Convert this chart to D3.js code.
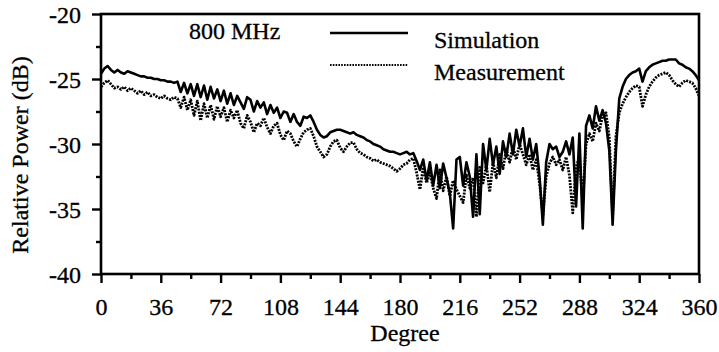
<!DOCTYPE html>
<html>
<head>
<meta charset="utf-8">
<script src="https://cdn.jsdelivr.net/npm/d3@7/dist/d3.min.js"></script>
<style>
  html, body { margin: 0; padding: 0; background: #fff; }
  svg { display: block; }
</style>
</head>
<body>
<svg id="chart" width="719" height="352"></svg>
<script>
// Angle grid (degrees), 2-degree step
const degrees = d3.range(0, 361, 2);

// Relative power (dB), simulated pattern
const simulation = [
  -24.6, -24.2, -24.0, -24.3, -24.5, -24.3, -24.5, -24.6, -24.4, -24.5,
  -24.6, -24.7, -24.8, -24.8, -24.9, -24.9, -25.0, -25.0, -25.1, -25.1,
  -25.2, -25.2, -25.3, -25.2, -26.0, -25.3, -26.1, -25.4, -26.3, -25.4,
  -26.4, -25.5, -26.6, -25.6, -26.5, -25.8, -26.7, -25.9, -26.9, -26.1,
  -27.0, -26.3, -26.8, -27.3, -26.4, -26.6, -27.5, -26.7, -27.2, -26.8,
  -27.7, -27.0, -27.6, -27.2, -28.0, -27.5, -27.6, -28.3, -27.7, -28.3,
  -28.6, -27.9, -28.0, -27.8, -28.3, -28.9, -29.3, -29.5, -29.4, -29.1,
  -29.0, -28.9, -28.9, -29.0, -29.1, -29.2, -29.1, -29.3, -29.4, -29.5,
  -29.7, -29.8, -30.0, -30.1, -30.2, -30.4, -30.5, -30.6, -30.6, -30.7,
  -30.8, -30.7, -30.6, -30.8, -30.7, -31.3, -32.0, -31.2, -32.8, -31.4,
  -33.2, -31.6, -33.4, -31.5, -32.6, -33.8, -36.5, -31.2, -31.0, -33.2,
  -31.4, -32.5, -35.6, -30.8, -35.4, -30.0, -32.0, -29.6, -31.6, -30.2,
  -32.3, -29.8, -31.0, -29.2, -30.8, -28.9, -30.2, -28.8, -31.0, -29.6,
  -31.2, -30.0, -32.5, -36.2, -31.4, -30.0, -30.4, -30.2, -31.0, -30.6,
  -29.8, -30.8, -29.5, -34.8, -29.2, -36.5, -28.6, -27.8, -28.8, -27.1,
  -28.2, -27.4, -28.4, -30.5, -36.2, -30.5, -26.5, -25.6, -25.0, -24.7,
  -24.5, -24.4, -24.2, -25.2, -24.4, -24.1, -23.9, -23.8, -23.7, -23.6,
  -23.6, -23.5, -23.5, -23.5, -23.8, -23.9, -24.1, -24.2, -24.4, -24.7,
  -25.1
];

// Relative power (dB), measured pattern
const measurement = [
  -25.6, -25.3, -25.1, -25.4, -25.7, -25.6, -25.8, -25.6, -25.9, -25.7,
  -25.9, -26.1, -25.9, -26.2, -26.0, -26.3, -26.2, -26.4, -26.5, -26.3,
  -26.5, -26.6, -26.4, -26.5, -27.2, -26.4, -27.4, -26.6, -27.8, -26.7,
  -28.2, -26.9, -28.0, -27.0, -28.1, -27.1, -27.9, -27.2, -28.3, -27.4,
  -28.0, -27.4, -28.4, -28.8, -27.8, -28.3, -29.1, -28.4, -28.6, -28.0,
  -28.7, -29.2, -28.6, -28.4, -29.3, -29.7, -29.0, -29.2, -29.8, -30.2,
  -29.6, -29.1, -28.9, -28.8, -29.4, -30.2, -30.6, -31.0, -30.8, -30.2,
  -29.8, -29.7, -30.3, -30.6, -30.2, -29.9, -29.9, -30.4, -30.7, -30.8,
  -31.0, -31.1, -31.3, -31.2, -31.4, -31.5, -31.6, -31.7, -31.9, -32.1,
  -31.9, -31.6, -31.5, -31.2, -31.1, -32.2, -33.5, -31.8, -33.0, -32.2,
  -33.4, -34.2, -32.0, -33.6, -32.5, -34.0, -32.8, -33.5, -34.0, -34.5,
  -32.4, -33.4, -32.6, -35.6, -31.8, -33.0, -31.6, -33.7, -31.4, -32.6,
  -30.8, -31.9, -30.4, -31.4, -30.2, -31.2, -30.0, -30.8, -31.6, -30.8,
  -32.0, -31.2, -33.0, -35.5, -32.5, -31.5, -31.0, -31.6, -31.2, -32.0,
  -31.0, -32.4, -35.3, -31.8, -31.0, -34.5, -30.0, -29.2, -29.8, -28.4,
  -29.0, -27.8, -27.6, -29.5, -35.5, -29.4, -27.6, -26.9, -26.4, -26.0,
  -25.7, -25.5, -25.6, -27.1, -26.2, -25.6, -25.2, -24.9, -24.7, -24.6,
  -24.5, -24.7, -25.1, -25.4, -25.6, -25.3, -25.1, -25.2, -25.3, -25.7,
  -26.3
];

const xTicks = [0, 36, 72, 108, 144, 180, 216, 252, 288, 324, 360];
const xMinorTicks = [18, 54, 90, 126, 162, 198, 234, 270, 306, 342];
const yTicks = [-20, -25, -30, -35, -40];
const yMinorTicks = [-22.5, -27.5, -32.5, -37.5];

const legendItems = [
  { label: "Simulation", key: "sim" },
  { label: "Measurement", key: "meas" }
];
const bandLabel = "800 MHz";

const svg = d3.select("#chart");
const plot = { left: 101, right: 699, top: 14, bottom: 274 };

const x = d3.scaleLinear().domain([0, 360]).range([plot.left, plot.right]);
const y = d3.scaleLinear().domain([-40, -20]).range([plot.bottom, plot.top]);

const FONT = 24;
const SERIF = "Liberation Serif";
const styles = {
  sim:  { width: 2.6, dash: null },
  meas: { width: 2.8, dash: "2,1.2" }
};

// Text in the chart's serif face, slightly heavy
function serifText(sel) {
  return sel.attr("font-family", SERIF)
    .attr("font-size", FONT)
    .attr("fill", "#000")
    .attr("stroke", "#000")
    .attr("stroke-width", 0.3);
}

// Minor ticks
svg.append("g")
  .attr("transform", `translate(${plot.left},0)`)
  .call(d3.axisLeft(y).tickValues(yMinorTicks).tickSize(5).tickFormat(""))
  .call(g => g.select(".domain").remove())
  .selectAll("line").attr("stroke", "#000").attr("stroke-width", 2.4);
svg.append("g")
  .attr("transform", `translate(0,${plot.bottom})`)
  .call(d3.axisBottom(x).tickValues(xMinorTicks).tickSize(5).tickFormat(""))
  .call(g => g.select(".domain").remove())
  .selectAll("line").attr("stroke", "#000").attr("stroke-width", 2.4);

// Major ticks and labels
const yAxis = svg.append("g")
  .attr("transform", `translate(${plot.left},0)`)
  .call(d3.axisLeft(y).tickValues(yTicks).tickSize(9).tickPadding(11).tickFormat(d => d))
  .call(g => g.select(".domain").remove())
  .attr("font-family", SERIF);
yAxis.selectAll("line").attr("stroke", "#000").attr("stroke-width", 2.4);
yAxis.selectAll("text").call(serifText).attr("dy", "0.34em");

const xAxis = svg.append("g")
  .attr("transform", `translate(0,${plot.bottom})`)
  .call(d3.axisBottom(x).tickValues(xTicks).tickSize(9).tickPadding(15).tickFormat(d => d))
  .call(g => g.select(".domain").remove())
  .attr("font-family", SERIF);
xAxis.selectAll("line").attr("stroke", "#000").attr("stroke-width", 2.4);
xAxis.selectAll("text").call(serifText).attr("dy", "0.71em");

// Series
const line = d3.line()
  .x((d, i) => x(degrees[i]))
  .y(d => y(d));

svg.append("path")
  .datum(measurement)
  .attr("d", line)
  .attr("fill", "none").attr("stroke", "#000")
  .attr("stroke-width", styles.meas.width)
  .attr("stroke-dasharray", styles.meas.dash)
  .attr("stroke-linejoin", "round");

svg.append("path")
  .datum(simulation)
  .attr("d", line)
  .attr("fill", "none").attr("stroke", "#000")
  .attr("stroke-width", styles.sim.width)
  .attr("stroke-linejoin", "round");

// Frame
svg.append("rect")
  .attr("x", plot.left).attr("y", plot.top)
  .attr("width", plot.right - plot.left).attr("height", plot.bottom - plot.top)
  .attr("fill", "none").attr("stroke", "#000").attr("stroke-width", 2.6);

// Band label
svg.append("text")
  .attr("x", 189).attr("y", 39)
  .call(serifText)
  .text(bandLabel);

// Legend
const legend = svg.append("g");
legendItems.forEach((item, i) => {
  const ly = 33 + i * 32;
  legend.append("line")
    .attr("x1", 330).attr("x2", 408)
    .attr("y1", ly).attr("y2", ly)
    .attr("stroke", "#000")
    .attr("stroke-width", item.key === "sim" ? 2.6 : 2.2)
    .attr("stroke-dasharray", item.key === "sim" ? null : "1.6,1.2");
  legend.append("text")
    .attr("x", 434).attr("y", ly + 15)
    .call(serifText)
    .text(item.label);
});

// Axis titles
svg.append("text")
  .attr("x", 405).attr("y", 341)
  .attr("text-anchor", "middle")
  .call(serifText)
  .text("Degree");

svg.append("text")
  .attr("transform", "translate(28,155) rotate(-90)")
  .attr("text-anchor", "middle")
  .call(serifText)
  .text("Relative Power (dB)");
</script>
</body>
</html>
